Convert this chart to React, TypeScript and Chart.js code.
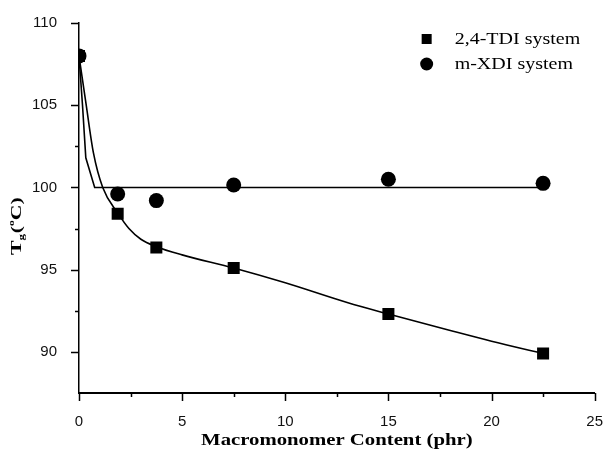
import React, { useEffect, useRef } from "react";
import { Chart, registerables } from "chart.js";
Chart.register(...registerables);

// Measured data (Macromonomer content in phr vs Tg in °C)
const contentPhr = [0, 1.875, 3.75, 7.5, 15, 22.5];
const tdiTg = [108, 98.4, 96.35, 95.1, 92.3, 89.9];
const xdiTg = [108, 99.6, 99.2, 100.15, 100.5, 100.25];

// Fitted curves
const tdiFitX = [0, 0.35, 0.7, 1.15, 1.875, 2.42, 3.0, 3.75, 5, 7.5, 10, 13, 15, 18, 20, 22.5];
const tdiFitY = [108, 105, 102.1, 100, 98.45, 97.5, 96.85, 96.4, 95.9, 95.1, 94.2, 93.0, 92.3, 91.3, 90.65, 89.9];
const xdiFitX = [0, 0.17, 0.33, 0.76, 22.5];
const xdiFitY = [108, 105, 101.8, 100, 100];

// Axis ticks
const xMajorTicks = [0, 5, 10, 15, 20, 25];
const xMinorTicks = [2.5, 7.5, 12.5, 17.5, 22.5];
const yMajorTicks = [90, 95, 100, 105, 110];
const yMinorTicks = [92.5, 97.5, 102.5];

const legendLabels = ["2,4-TDI system", "m-XDI system"];
const xTitle = "Macromonomer Content (phr)";

const SERIF = '"Liberation Serif", "Times New Roman", serif';
const SANS = '"Liberation Sans", Arial, sans-serif';

const annotPlugin = {
  id: "annot",
  afterDraw(chart: any) {
    const ctx = chart.ctx as CanvasRenderingContext2D;
    const xs = chart.scales.x;
    const ys = chart.scales.y;
    const area = chart.chartArea;
    ctx.save();
    ctx.strokeStyle = "#000";
    ctx.lineWidth = 1.5;
    ctx.beginPath();
    for (const v of xMajorTicks) {
      const px = Math.round(xs.getPixelForValue(v)) + 0.5;
      ctx.moveTo(px, area.bottom);
      ctx.lineTo(px, area.bottom + 8);
    }
    for (const v of xMinorTicks) {
      const px = Math.round(xs.getPixelForValue(v)) + 0.5;
      ctx.moveTo(px, area.bottom);
      ctx.lineTo(px, area.bottom + 4);
    }
    for (const v of yMajorTicks) {
      const py = Math.round(ys.getPixelForValue(v)) + 0.5;
      ctx.moveTo(area.left, py);
      ctx.lineTo(area.left - 8, py);
    }
    for (const v of yMinorTicks) {
      const py = Math.round(ys.getPixelForValue(v)) + 0.5;
      ctx.moveTo(area.left, py);
      ctx.lineTo(area.left - 4, py);
    }
    ctx.stroke();

    // x title
    ctx.fillStyle = "#000";
    ctx.save();
    ctx.translate((area.left + area.right) / 2, 445);
    ctx.scale(1.22, 1);
    ctx.font = `bold 17px ${SERIF}`;
    ctx.textAlign = "center";
    ctx.textBaseline = "alphabetic";
    ctx.fillText(xTitle, 0, 0);
    ctx.restore();

    // y title: T_g (°C)
    ctx.save();
    ctx.translate(21, 255);
    ctx.rotate(-Math.PI / 2);
    ctx.scale(1.45, 1);
    ctx.textAlign = "left";
    ctx.textBaseline = "alphabetic";
    let cx = 0;
    ctx.font = `bold 15px ${SERIF}`;
    ctx.fillText("T", cx, 0);
    cx += ctx.measureText("T").width;
    ctx.font = `bold 9px ${SERIF}`;
    ctx.fillText("g", cx, 3);
    cx += ctx.measureText("g").width + 0.5;
    ctx.font = `bold 15px ${SERIF}`;
    ctx.fillText("(", cx, 0);
    cx += ctx.measureText("(").width;
    ctx.font = `bold 8px ${SERIF}`;
    ctx.fillText("o", cx, -7);
    cx += ctx.measureText("o").width;
    ctx.font = `bold 15px ${SERIF}`;
    ctx.fillText("C)", cx, 0);
    ctx.restore();

    // legend
    const lx = area.right - 168;
    const ly1 = area.top + 16;
    const ly2 = area.top + 41;
    ctx.fillStyle = "#000";
    ctx.fillRect(lx - 5, ly1 - 5, 10, 10);
    ctx.beginPath();
    ctx.arc(lx, ly2, 6.5, 0, Math.PI * 2);
    ctx.fill();
    ctx.font = `16px ${SERIF}`;
    ctx.textAlign = "left";
    ctx.textBaseline = "middle";
    ctx.save();
    ctx.translate(lx + 28, ly1 + 1);
    ctx.scale(1.25, 1);
    ctx.fillText(legendLabels[0], 0, 0);
    ctx.restore();
    ctx.save();
    ctx.translate(lx + 28, ly2 + 1);
    ctx.scale(1.25, 1);
    ctx.fillText(legendLabels[1], 0, 0);
    ctx.restore();

    ctx.restore();
  },
};

export default function App() {
  const ref = useRef<HTMLCanvasElement | null>(null);
  useEffect(() => {
    if (!ref.current) return;
    const tdiPts = contentPhr.map((x, i) => ({ x, y: tdiTg[i] }));
    const xdiPts = contentPhr.map((x, i) => ({ x, y: xdiTg[i] }));
    const tdiFit = tdiFitX.map((x, i) => ({ x, y: tdiFitY[i] }));
    const xdiFit = xdiFitX.map((x, i) => ({ x, y: xdiFitY[i] }));
    const chart = new Chart(ref.current, {
      type: "scatter",
      data: {
        datasets: [
          {
            label: legendLabels[0],
            data: tdiPts,
            pointStyle: "rect",
            pointRadius: 8.5,
            pointBackgroundColor: "#000",
            pointBorderWidth: 0,
            showLine: false,
            order: 0,
          },
          {
            label: legendLabels[1],
            data: xdiPts,
            pointStyle: "circle",
            pointRadius: 7.5,
            pointBackgroundColor: "#000",
            pointBorderWidth: 0,
            showLine: false,
            order: 0,
          },
          {
            label: "TDI fit",
            data: tdiFit,
            showLine: true,
            borderColor: "#000",
            borderWidth: 1.6,
            pointRadius: 0,
            cubicInterpolationMode: "monotone",
            order: 1,
          },
          {
            label: "XDI fit",
            data: xdiFit,
            showLine: true,
            borderColor: "#000",
            borderWidth: 1.6,
            pointRadius: 0,
            tension: 0,
            order: 1,
          },
        ],
      } as any,
      options: {
        animation: false,
        responsive: false,
        layout: { autoPadding: false, padding: { top: 17, right: 10, left: 0, bottom: 0 } },
        plugins: { legend: { display: false }, tooltip: { enabled: false } },
        scales: {
          x: {
            type: "linear",
            min: 0,
            max: 25,
            grid: { display: false },
            border: { display: true, color: "#000", width: 2 },
            afterBuildTicks: (s: any) => {
              s.ticks = xMajorTicks.map((v) => ({ value: v }));
            },
            afterFit: (s: any) => {
              s.height = 57;
            },
            ticks: {
              color: "#111",
              padding: 12,
              maxRotation: 0,
              font: { family: SANS, size: 15 },
            },
          },
          y: {
            type: "linear",
            min: 87.5,
            max: 110,
            grid: { display: false },
            border: { display: true, color: "#000", width: 1.5 },
            afterBuildTicks: (s: any) => {
              s.ticks = yMajorTicks.map((v) => ({ value: v }));
            },
            afterFit: (s: any) => {
              s.width = 79;
            },
            ticks: {
              color: "#111",
              padding: 14,
              font: { family: SANS, size: 15 },
            },
          },
        },
      } as any,
      plugins: [annotPlugin],
    });
    return () => chart.destroy();
  }, []);
  return (
    <div style={{ position: "absolute", left: 0, top: 0, width: 615, height: 450, background: "#fff" }}>
      <canvas ref={ref} width={615} height={450} style={{ width: 615, height: 450 }} />
    </div>
  );
}
